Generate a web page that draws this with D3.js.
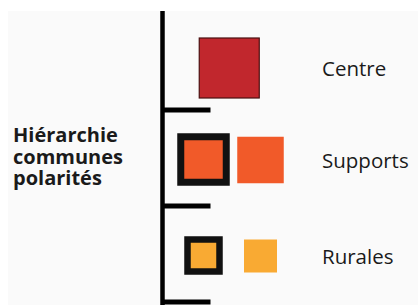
<!DOCTYPE html>
<html>
<head>
<meta charset="utf-8">
<script src="https://cdn.jsdelivr.net/npm/d3@7"></script>
<style>
  body { margin: 0; background: #fff; }
  text { font-family: "Open Sans", sans-serif; fill: #1a1a1a; }
</style>
</head>
<body>
<div class="legend"></div>
<script>
// legend data
const titleLines = ["Hiérarchie", "communes", "polarités"];
const categories = ["Centre", "Supports", "Rurales"];
const ranks = [3, 2, 1]; // level in the hierarchy
const symbolKinds = [["plain"], ["outlined", "plain"], ["outlined", "plain"]];

drawLegend();

function drawLegend() {
    const w = 418,
        h = 305,
        axisX = 162.5, // vertical line
        lineTop = 11,
        tickLen = 48;

    const svg = d3.select(".legend")
        .append("svg")
        .attr("width", w)
        .attr("height", h);

    // light grey paper
    svg.append("rect")
        .attr("x", 8)
        .attr("y", lineTop)
        .attr("width", w - 8)
        .attr("height", h - lineTop)
        .attr("fill", "#fafafa");

    const yScale = d3.scaleBand()
        .domain(categories)
        .range([16, 304]);

    const xScale = d3.scalePoint()
        .domain(["outlined", "plain"])
        .range([204, 260.5]);

    const sizeScale = d3.scaleLinear()
        .domain([1, 3])
        .range([33, 60]);

    const colour = d3.scaleOrdinal()
        .domain(categories)
        .range(["#c1272d", "#f15a29", "#f9aa33"]);

    // the vertical line and its ticks between the groups
    svg.append("line")
        .attr("x1", axisX)
        .attr("x2", axisX)
        .attr("y1", lineTop)
        .attr("y2", h)
        .attr("stroke", "#000")
        .attr("stroke-width", 4.5);

    svg.selectAll(".tick")
        .data(categories)
        .enter()
        .append("line")
        .attr("class", "tick")
        .attr("x1", axisX)
        .attr("x2", axisX + tickLen)
        .attr("y1", d => yScale(d) + yScale.bandwidth() - 2)
        .attr("y2", d => yScale(d) + yScale.bandwidth() - 2)
        .attr("stroke", "#000")
        .attr("stroke-width", 5);

    // middle of a row: first group starts a bit below the top of the line
    const rowMid = cat => {
        const i = categories.indexOf(cat);
        const top = i == 0 ? 24 : yScale(cat);
        return (top + yScale(cat) + yScale.bandwidth()) / 2;
    };

    // symbols
    const symbols = [];
    categories.forEach((c, i) => {
        symbolKinds[i].forEach(k => {
            symbols.push({ cat: c, rank: ranks[i], kind: k, single: symbolKinds[i].length == 1 });
        });
    });

    const cx = d => d.single ? d3.mean(xScale.range()) - 3 : xScale(d.kind);

    svg.selectAll(".symbol")
        .data(symbols)
        .enter()
        .append("rect")
        .attr("class", "symbol")
        .attr("x", d => cx(d) - sizeScale(d.rank) / 2)
        .attr("y", d => rowMid(d.cat) - sizeScale(d.rank) / 2)
        .attr("width", d => sizeScale(d.rank) - (d.kind == "outlined" ? 1 : 0))
        .attr("height", d => sizeScale(d.rank) - (d.kind == "outlined" ? 1 : 0))
        .attr("fill", d => colour(d.cat))
        .attr("stroke", d => d.kind == "outlined" ? "#111" : (d.single ? "#4a1010" : "none"))
        .attr("stroke-width", d => d.kind == "outlined" ? (d.rank == 2 ? 7 : 6.5) : 1.2);

    // category labels
    svg.selectAll(".label")
        .data(categories)
        .enter()
        .append("text")
        .attr("class", "label")
        .attr("x", 322)
        .attr("y", d => rowMid(d) + 7.5)
        .style("font-size", "20.5px")
        .style("font-weight", 500)
        .text(d => d);

    // title, one text per line
    svg.selectAll(".title")
        .data(titleLines)
        .enter()
        .append("text")
        .attr("class", "title")
        .attr("x", 13)
        .attr("y", (d, i) => 142 + i * 21.5)
        .style("font-size", "20px")
        .style("font-weight", 700)
        .text(d => d);
};
</script>
</body>
</html>
